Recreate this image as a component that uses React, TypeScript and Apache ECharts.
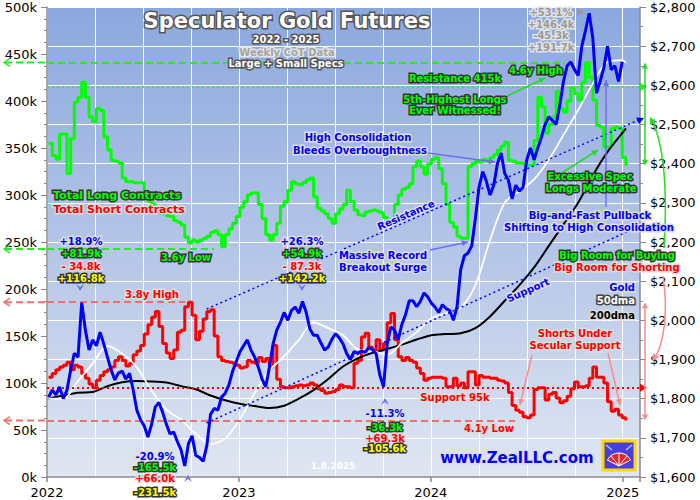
import { useEffect, useRef } from "react";
import * as echarts from "echarts";

// weekly CoT reports, the first one on 2022-01-04, the last on 2025-01-07
const firstReport = Date.UTC(2022, 0, 4);

// total spec long contracts, k
const totalLongs = [
  355, 342, 338, 365, 365, 323, 360, 399, 404, 420,
  404, 383, 378, 392, 390, 362, 348, 337, 336, 334,
  318, 314, 314, 313, 313, 313, 300, 293, 290, 284,
  281, 280, 278, 277, 273, 271, 268, 255, 249, 252,
  250, 252, 254, 256, 260, 262, 258, 245, 258, 264,
  270, 277, 287, 293, 300, 302, 302, 290, 275, 258,
  252, 258, 270, 288, 293, 305, 314, 312, 311, 313,
  316, 318, 298, 286, 283, 280, 275, 270, 280, 285,
  290, 305, 293, 284, 279, 278, 282, 283, 284, 283,
  281, 276, 268, 270, 290, 300, 306, 308, 312, 330,
  336, 330, 322, 333, 338, 340, 328, 312, 290, 271,
  266, 256, 254, 254, 330, 333, 336, 335, 338, 336,
  340, 343, 348, 352, 356, 337, 336, 334, 334, 333,
  332, 332, 358, 404, 394, 366, 375, 383, 410, 392,
  388, 400, 414, 408, 401, 420, 441, 425, 401, 374,
  372, 351, 351, 371, 372, 371, 340, 331,
];

// total spec short contracts, k
const totalShorts = [
  106, 110, 114, 117, 119, 122, 114, 119, 117, 110,
  105, 99, 95, 103, 108, 112, 114, 117, 124, 128,
  124, 118, 121, 130, 134, 140, 152, 162, 170, 176,
  160, 142, 132, 126, 135, 154, 156, 181, 186, 172,
  146, 155, 168, 176, 178, 150, 128, 124, 123, 122,
  121, 119, 116, 117, 124, 122, 121, 127, 123, 126,
  117, 140, 104, 96, 95, 95, 96, 97, 98, 97,
  98, 100, 98, 94, 92, 89, 90, 91, 93, 98,
  96, 96, 95, 121, 124, 149, 153, 138, 135, 146,
  135, 142, 164, 174, 146, 128, 124, 127, 124, 122,
  116, 110, 103, 105, 106, 106, 106, 105, 96, 96,
  105, 97, 100, 95, 112, 112, 98, 108, 106, 106,
  105, 105, 103, 102, 100, 90, 76, 71, 69, 64,
  63, 66, 93, 95, 95, 82, 88, 90, 84, 79,
  81, 86, 94, 101, 96, 96, 97, 105, 117, 106,
  106, 100, 80, 70, 72, 66, 63, 60,
];

// gold, $ per ounce, weekly
const goldPrice = [
  1804, 1822, 1810, 1830, 1800, 1822, 1873, 1916, 1906, 2045,
  1975, 1924, 1950, 1935, 1970, 1940, 1906, 1873, 1848, 1866,
  1870, 1850, 1865, 1822, 1770, 1746, 1730, 1702, 1735, 1779,
  1790, 1765, 1735, 1710, 1715, 1690, 1669, 1628, 1685, 1705,
  1655, 1650, 1640, 1680, 1760, 1775, 1771, 1804, 1814, 1835,
  1870, 1895, 1920, 1935, 1950, 1924, 1906, 1880, 1850, 1830,
  1880, 1940, 1975, 1995, 2020, 2000, 2025, 2034, 2018, 2048,
  2020, 1978, 1962, 1962, 1942, 1924, 1932, 1952, 1966, 1955,
  1940, 1915, 1900, 1920, 1916, 1922, 1918, 1930, 1925, 1915,
  1860, 1830, 1940, 1983, 1975, 1950, 1990, 2015, 2050, 2050,
  2035, 2048, 2070, 2060, 2044, 2034, 2020, 2040, 2030, 2025,
  2000, 2035, 2130, 2165, 2172, 2190, 2260, 2340, 2380, 2355,
  2320, 2345, 2400, 2427, 2375, 2358, 2310, 2345, 2330, 2340,
  2410, 2440, 2410, 2440, 2468, 2500, 2520, 2510, 2500, 2550,
  2610, 2650, 2660, 2640, 2625, 2700, 2740, 2784, 2720, 2580,
  2610, 2645, 2700, 2640, 2650, 2610, 2660,
];

// moving averages, read every fourth week
const dmaWeeks = [
  0, 4, 8, 12, 16, 20, 24, 28, 32, 36, 40, 44, 48, 52, 56, 60, 64, 68, 72, 76,
  80, 84, 88, 92, 96, 100, 104, 108, 112, 116, 120, 124, 128, 132, 136, 140,
  144, 148, 152, 156, 157,
];
const gold50dma = [
  1800, 1800, 1845, 1890, 1935, 1915, 1880, 1820, 1772, 1746, 1710, 1684, 1698,
  1748, 1815, 1872, 1908, 1950, 1995, 1980, 1962, 1926, 1922, 1912, 1942, 1970,
  2005, 2018, 2032, 2090, 2205, 2300, 2330, 2360, 2410, 2473, 2537, 2605, 2660,
  2664, 2658,
];
const gold200dma = [
  1800, 1808, 1815, 1817, 1832, 1842, 1845, 1844, 1841, 1832, 1824, 1808, 1796,
  1787, 1781, 1776, 1782, 1800, 1822, 1850, 1882, 1903, 1917, 1927, 1938, 1951,
  1962, 1965, 1967, 1980, 2010, 2050, 2090, 2135, 2190, 2245, 2300, 2370, 2430,
  2478, 2490,
];

// reference levels, k contracts
const longHigh = 441;
const longResistance = 415;
const longLow = 242.5;
const shortHigh = 186;
const shortSupport = 95;
const shortLow = 60;

const X_MIN = 2022;
const X_MAX = 2025.09;

// gold trend channel, [year, $]
const resistanceLine = [[2022.832, 2029], [X_MAX, 2513]];
const supportLine = [[2022.832, 1738], [X_MAX, 2241]];

function weekYear(i: number) {
  const t = firstReport + i * 7 * 86400000;
  const y = new Date(t).getUTCFullYear();
  const y0 = Date.UTC(y, 0, 1);
  const y1 = Date.UTC(y + 1, 0, 1);
  return y + (t - y0) / (y1 - y0);
}

const FONT = '"DejaVu Sans", Verdana, sans-serif';
const GREEN = "#00ff00";
const RED = "#ff0000";
const BLUE = "#0000ff";
const YELLOW = "#ffff00";
const DARK = "#333333";
const LIGHT = "#dcdcdc";

function txt(text: string, x: number, y: number, fill: string, stroke: string | null,
  size = 10, align = "center", rotation = 0) {
  return {
    type: "text", x, y, rotation, z: 100, silent: true,
    style: {
      text, fill, font: `bold ${size}px ${FONT}`, align, verticalAlign: "middle",
      stroke: stroke || undefined, lineWidth: stroke ? 3 : 0, strokeFirst: true,
    },
  };
}

function head(x: number, y: number, a: number, color: string, s = 6) {
  const c = Math.cos(a), n = Math.sin(a);
  return {
    type: "polygon", z: 95, silent: true,
    shape: {
      points: [
        [x, y],
        [x - s * c + s * 0.5 * n, y - s * n - s * 0.5 * c],
        [x - s * c - s * 0.5 * n, y - s * n + s * 0.5 * c],
      ],
    },
    style: { fill: color },
  };
}

function arrow(x1: number, y1: number, x2: number, y2: number, color: string, w = 1.5) {
  return [
    { type: "line", z: 95, silent: true, shape: { x1, y1, x2, y2 }, style: { stroke: color, lineWidth: w } },
    head(x2, y2, Math.atan2(y2 - y1, x2 - x1), color),
  ];
}

function chevron(x: number, y: number, down: boolean) {
  const d = down ? 1 : -1;
  return {
    type: "polygon", z: 100, silent: true,
    shape: { points: [[x - 4, y - 4 * d], [x, y + 3 * d], [x + 4, y - 4 * d], [x, y - 1 * d]] },
    style: { fill: "#6f6ff5" },
  };
}

export default function App() {
  const ref = useRef<HTMLDivElement>(null);

  useEffect(() => {
    if (!ref.current) return;
    const chart = echarts.init(ref.current, null, { renderer: "svg" });

    const hline = (v: number, x1: number, x2: number, color: string, type: any, width = 2) => [
      { coord: [x1, v], lineStyle: { color, type, width } },
      { coord: [x2, v] },
    ];
    const mark = (data: any[]) => ({
      silent: true, symbol: "none", label: { show: false }, animation: false, data,
    });

    chart.setOption({
      animation: false,
      backgroundColor: "#ffffff",
      textStyle: { fontFamily: FONT },
      grid: {
        left: 47, right: 60, top: 7, bottom: 23, show: true, borderWidth: 0,
        backgroundColor: new echarts.graphic.LinearGradient(0, 0, 0, 1, [
          { offset: 0, color: "#8ba8de" },
          { offset: 0.5, color: "#b3c4e7" },
          { offset: 1, color: "#e0e6f2" },
        ]),
      },
      xAxis: [
        {
          type: "value", min: X_MIN, max: X_MAX, interval: 0.25,
          axisLine: { show: false }, axisTick: { show: false }, axisLabel: { show: false },
          splitLine: { show: true, lineStyle: { color: "#ffffff", width: 1 } },
        },
        {
          type: "value", min: X_MIN, max: X_MAX, interval: 1, position: "bottom",
          axisLine: { show: true, lineStyle: { color: "#8a8a8a", width: 1.5 } },
          axisTick: { show: true, length: 5, lineStyle: { color: "#8a8a8a", width: 1.5 } },
          axisLabel: {
            formatter: (v: number) => (Number.isInteger(v) ? String(v) : ""),
            color: "#000", fontSize: 13, fontFamily: FONT, margin: 9,
          },
          splitLine: { show: false },
        },
      ],
      yAxis: [
        {
          type: "value", min: 0, max: 500, interval: 50, position: "left",
          axisLine: { show: true, lineStyle: { color: "#8a8a8a", width: 1.5 } },
          axisTick: { show: true, length: 6, lineStyle: { color: "#8a8a8a" } },
          minorTick: { show: true, splitNumber: 4, length: 3, lineStyle: { color: "#8a8a8a" } },
          axisLabel: { formatter: "{value}k", color: "#000", fontSize: 13, fontFamily: FONT, margin: 10 },
          splitLine: { show: false },
        },
        {
          type: "value", min: 1600, max: 2800, interval: 100, position: "right",
          axisLine: { show: true, lineStyle: { color: "#8a8a8a", width: 1.5 } },
          axisTick: { show: true, length: 6, lineStyle: { color: "#8a8a8a" } },
          minorTick: { show: true, splitNumber: 2, length: 3, lineStyle: { color: "#8a8a8a" } },
          axisLabel: {
            formatter: (v: number) => `$${Math.floor(v / 1000)},${String(v % 1000).padStart(3, "0")}`,
            color: "#000", fontSize: 13, fontFamily: FONT, margin: 10,
          },
          splitLine: { show: true, lineStyle: { color: "#ffffff", width: 1 } },
        },
      ],
      series: [
        {
          name: "Total Short Contracts", type: "line", xAxisIndex: 0, yAxisIndex: 0,
          data: totalShorts.map((v, i) => [weekYear(i), v]),
          step: "end", symbol: "none", lineStyle: { color: RED, width: 3 }, z: 3,
          markLine: mark([
            hline(shortHigh, X_MIN, 2022.72, "#f07070", [7, 4]),
            hline(shortSupport, X_MIN, X_MAX, RED, [2, 3]),
            hline(shortLow, X_MIN, 2024.44, "#f07070", [7, 4]),
          ]),
        },
        {
          name: "Total Long Contracts", type: "line", xAxisIndex: 0, yAxisIndex: 0,
          data: totalLongs.map((v, i) => [weekYear(i), v]),
          step: "end", symbol: "none", lineStyle: { color: GREEN, width: 3 }, z: 3,
          markLine: mark([
            hline(longHigh, X_MIN, 2024.70, "#22ee22", [7, 4]),
            hline(longResistance, X_MIN, X_MAX, "#22ee22", [2, 3], 1.5),
            hline(longLow, X_MIN, 2022.87, "#22ee22", [7, 4]),
          ]),
        },
        {
          name: "200dma", type: "line", xAxisIndex: 0, yAxisIndex: 1,
          data: gold200dma.map((v, k) => [weekYear(dmaWeeks[k]), v]),
          symbol: "none", smooth: 0.3, lineStyle: { color: "#000000", width: 2 }, z: 4,
        },
        {
          name: "50dma", type: "line", xAxisIndex: 0, yAxisIndex: 1,
          data: gold50dma.map((v, k) => [weekYear(dmaWeeks[k]), v]),
          symbol: "none", smooth: 0.3, lineStyle: { color: "#ffffff", width: 1.8 }, z: 4,
        },
        {
          name: "Gold", type: "line", xAxisIndex: 0, yAxisIndex: 1,
          data: goldPrice.map((v, i) => [weekYear(i), v]),
          symbol: "none", lineStyle: { color: BLUE, width: 3 }, z: 5,
          markLine: mark([
            [{ coord: resistanceLine[0], lineStyle: { color: BLUE, type: [2, 3], width: 1.5 } }, { coord: resistanceLine[1] }],
            [{ coord: supportLine[0], lineStyle: { color: BLUE, type: [2, 3], width: 1.5 } }, { coord: supportLine[1] }],
          ]),
        },
      ],
    });

    const cy = (v: number, a = 0) => chart.convertToPixel({ yAxisIndex: a }, v) as number;
    const cx = (v: number) => chart.convertToPixel({ xAxisIndex: 0 }, v) as number;
    const xL = cx(X_MIN);
    const xR = cx(X_MAX);

    const leftExt = (v: number, color: string) => {
      const y = cy(v);
      return [
        { type: "line", z: 90, silent: true, shape: { x1: 5, y1: y, x2: xL, y2: y }, style: { stroke: color, lineWidth: 2, lineDash: [7, 4] } },
        { type: "polyline", z: 90, silent: true, shape: { points: [[10, y - 4], [4, y], [10, y + 4]] }, style: { stroke: color, lineWidth: 1.5, fill: "none" } },
      ];
    };
    const rightTip = (y: number, color: string) => ({
      type: "polygon", z: 95, silent: true,
      shape: { points: [[xR, y - 4], [xR + 7, y], [xR, y + 4]] }, style: { fill: color },
    });

    const yHigh = cy(longHigh);
    const yNow = cy(totalLongs[totalLongs.length - 1]);
    const ySHigh = cy(shortHigh);
    const ySLow = cy(shortLow);
    const yRes = cy(resistanceLine[1][1], 1);
    const pink = "#ff8a8a";

    const graphic: any[] = [
      ...leftExt(longHigh, "#22ee22"),
      ...leftExt(longLow, "#22ee22"),
      ...leftExt(shortHigh, "#f07070"),
      ...leftExt(shortLow, "#f07070"),
      rightTip(cy(longResistance), "#22ee22"),
      rightTip(cy(shortSupport), RED),
      head(xR + 4, yRes - 1.5, -0.42, BLUE, 7),
      // long range arrow
      { type: "line", z: 95, silent: true, shape: { x1: xR + 5, y1: yHigh + 3, x2: xR + 5, y2: yNow - 3 }, style: { stroke: "#22dd22", lineWidth: 1.5 } },
      head(xR + 5, yHigh, -Math.PI / 2, "#22dd22", 6),
      head(xR + 5, yNow, Math.PI / 2, "#22dd22", 6),
      // short range arrow
      { type: "line", z: 95, silent: true, shape: { x1: xR + 5, y1: ySHigh + 3, x2: xR + 5, y2: ySLow - 3 }, style: { stroke: pink, lineWidth: 1.5 } },
      head(xR + 5, ySHigh, -Math.PI / 2, pink, 6),
      head(xR + 5, ySLow, Math.PI / 2, pink, 6),
      // curved arrows
      { type: "bezierCurve", z: 95, silent: true, shape: { x1: 664, y1: 248, cpx1: 667, cpy1: 200, cpx2: 666, cpy2: 150, x2: 652, y2: 120 }, style: { stroke: "#22dd22", lineWidth: 1.5, fill: "none" } },
      head(650, 117, -2.0, "#22dd22", 7),
      { type: "bezierCurve", z: 95, silent: true, shape: { x1: 663, y1: 276, cpx1: 668, cpy1: 310, cpx2: 665, cpy2: 342, x2: 654, y2: 359 }, style: { stroke: pink, lineWidth: 1.5, fill: "none" } },
      head(652, 361, 2.2, pink, 7),
      // annotation arrows
      ...arrow(428, 153, 495, 162, "#6f6ff5"),
      ...arrow(430, 250, 468, 242, "#6f6ff5"),
      ...arrow(606, 207, 606, 80, "#6f6ff5"),
      ...arrow(505, 97, 545, 78, "#22dd22"),
      ...arrow(557, 176, 598, 150, "#22dd22"),
      ...arrow(532, 355, 520, 405, pink),
      ...arrow(608, 353, 620, 405, pink),
      { type: "polygon", z: 100, silent: true, shape: { points: [[577, 8], [585, 12], [577, 16]] }, style: { fill: "#9a9a9a" } },
      chevron(80, 288, true),
      chevron(302, 288, true),
      chevron(188, 478, false),
      chevron(385, 401, false),
      // title block
      txt("Speculator Gold Futures", 287, 21, "#ffffff", "#555555", 21),
      txt("2022 - 2025", 286, 39, "#ffffff", "#555555", 10),
      txt("Weekly CoT Data", 287, 52, "#a5a5a5", "#e4e4e4", 10),
      txt("Large + Small Specs", 286, 63, "#ffffff", "#555555", 10),
      // legend
      txt("Total Long Contracts", 117, 195, GREEN, DARK, 11),
      txt("Total Short Contracts", 119, 209, RED, LIGHT, 11),
      txt("Gold", 635, 287, BLUE, LIGHT, 10, "right"),
      txt("50dma", 635, 300, "#ffffff", "#444444", 10, "right"),
      txt("200dma", 635, 315, "#000000", LIGHT, 10, "right"),
      // notes
      txt("High Consolidation", 358, 137, BLUE, LIGHT),
      txt("Bleeds Overboughtness", 360, 150, BLUE, LIGHT),
      txt("Resistance 415k", 455, 78, GREEN, DARK),
      txt("4.6y High", 536, 70, GREEN, DARK),
      txt("5th-Highest Longs", 455, 99, GREEN, DARK),
      txt("Ever Witnessed!", 455, 110, GREEN, DARK),
      txt("+53.1%", 551, 12, "#9a9a9a", "#e2e2e2"),
      txt("+146.4k", 551, 24, "#9a9a9a", "#e2e2e2"),
      txt("-45.3k", 551, 35, "#9a9a9a", "#e2e2e2"),
      txt("+191.7k", 551, 47, "#9a9a9a", "#e2e2e2"),
      txt("Excessive Spec", 590, 176, GREEN, DARK),
      txt("Longs Moderate", 591, 188, GREEN, DARK),
      txt("Big-and-Fast Pullback", 590, 215, BLUE, LIGHT),
      txt("Shifting to High Consolidation", 589, 227, BLUE, LIGHT),
      txt("Big Room for Buying", 617, 255, GREEN, DARK),
      txt("Big Room for Shorting", 617, 267, RED, LIGHT),
      txt("Shorts Under", 575, 333, RED, LIGHT),
      txt("Secular Support", 575, 345, RED, LIGHT),
      txt("Support 95k", 455, 397, RED, LIGHT),
      txt("4.1y Low", 489, 428, RED, LIGHT),
      txt("3.6y Low", 186, 257, GREEN, DARK),
      txt("3.8y High", 152, 294, RED, LIGHT),
      txt("Massive Record", 383, 255, BLUE, LIGHT),
      txt("Breakout Surge", 383, 267, BLUE, LIGHT),
      txt("Resistance", 406, 215, BLUE, LIGHT, 10, "center", 0.41),
      txt("Support", 528, 290, BLUE, LIGHT, 10, "center", 0.42),
      txt("+18.9%", 81, 241, BLUE, LIGHT),
      txt("+81.9k", 81, 253, GREEN, DARK),
      txt("- 34.8k", 81, 266, RED, LIGHT),
      txt("+116.8k", 81, 278, YELLOW, DARK),
      txt("+26.3%", 302, 241, BLUE, LIGHT),
      txt("+54.9k", 302, 253, GREEN, DARK),
      txt("- 87.3k", 302, 266, RED, LIGHT),
      txt("+142.2k", 302, 278, YELLOW, DARK),
      txt("-20.9%", 155, 456, BLUE, LIGHT),
      txt("-165.5k", 155, 467, GREEN, DARK),
      txt("+66.0k", 155, 478, RED, LIGHT),
      txt("-231.5k", 155, 492, YELLOW, DARK),
      txt("-11.3%", 385, 413, BLUE, LIGHT),
      txt("-36.3k", 385, 427, GREEN, DARK),
      txt("+69.3k", 385, 438, RED, LIGHT),
      txt("-105.6k", 385, 448, YELLOW, DARK),
      txt("1.8.2025", 333, 466, "#ffffff", null, 9),
      txt("www.ZealLLC.com", 517, 458, BLUE, LIGHT, 15),
      // logo
      { type: "rect", z: 100, silent: true, shape: { x: 603, y: 441, width: 32, height: 29 }, style: { fill: "#4a3fd8", stroke: "#ffd800", lineWidth: 3 } },
      { type: "sector", z: 101, silent: true, shape: { cx: 619, cy: 466, r: 13, r0: 0, startAngle: Math.PI * 1.15, endAngle: Math.PI * 1.85 }, style: { fill: "#e8262a", stroke: "#ffffff", lineWidth: 1 } },
      { type: "polyline", z: 102, silent: true, shape: { points: [[619, 466], [611, 456]] }, style: { stroke: "#ffffff", lineWidth: 1 } },
      { type: "polyline", z: 102, silent: true, shape: { points: [[619, 466], [619, 453]] }, style: { stroke: "#ffffff", lineWidth: 1 } },
      { type: "polyline", z: 102, silent: true, shape: { points: [[619, 466], [627, 456]] }, style: { stroke: "#ffffff", lineWidth: 1 } },
      { type: "polyline", z: 102, silent: true, shape: { points: [[606, 445], [612, 450]] }, style: { stroke: "#a8c8ff", lineWidth: 1.5 } },
      { type: "polyline", z: 102, silent: true, shape: { points: [[632, 445], [626, 450]] }, style: { stroke: "#a8c8ff", lineWidth: 1.5 } },
    ];

    chart.setOption({ graphic });

    return () => chart.dispose();
  }, []);

  return <div ref={ref} style={{ position: "fixed", left: 0, top: 0, width: 700, height: 500 }} />;
}
